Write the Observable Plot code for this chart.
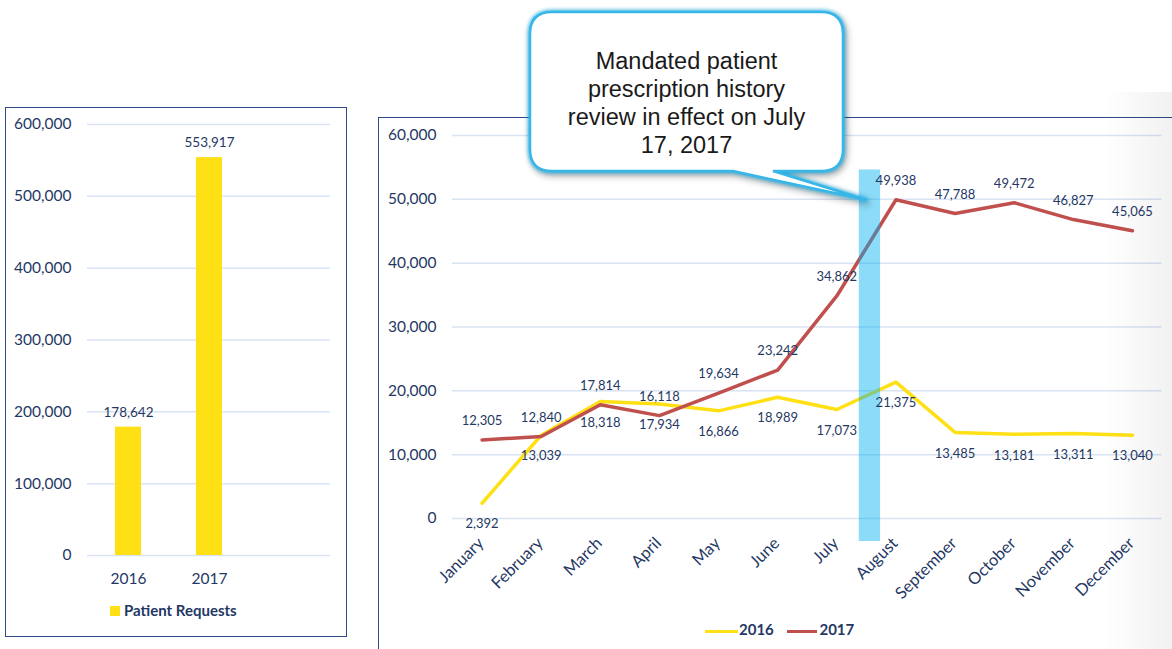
<!DOCTYPE html>
<html><head><meta charset="utf-8">
<script src="https://cdn.jsdelivr.net/npm/d3@7"></script>
<script src="https://cdn.jsdelivr.net/npm/@observablehq/plot@0.6"></script>
<style>
html,body{margin:0;padding:0;background:#fff;}
#page{position:relative;width:1172px;height:649px;overflow:hidden;font-family:Lato,sans-serif;color:#1F3864;}
.abs{position:absolute;}
.leg{font-weight:bold;font-size:15px;color:#1F3864;white-space:nowrap;}
</style></head><body><div id="page">
<div class="abs" style="left:5px;top:107px;width:340px;height:528px;border:1.5px solid #2E4A86;"></div>
<div class="abs" style="left:378px;top:117px;width:840px;height:580px;border:1.5px solid #2E4A86;"></div>
<div id="left" class="abs" style="left:0;top:100px"></div>
<div id="right" class="abs" style="left:380px;top:118px"></div>
<div class="abs leg" style="left:110px;top:601px;">
  <span style="display:inline-block;width:10px;height:10px;background:#FFE015;margin-right:4px;"></span><span id="legLeft"></span>
</div>
<div class="abs leg" style="left:705px;top:619px;line-height:20px;">
  <span style="display:inline-block;width:33px;height:3px;background:#FFE015;vertical-align:middle;"></span><span id="leg16" style="margin-left:1px;"></span>
  <span style="display:inline-block;width:30px;height:3px;background:#C0504D;vertical-align:middle;margin-left:10px;"></span><span id="leg17" style="margin-left:2px;"></span>
</div>
<svg class="abs" style="left:0;top:0;overflow:visible;filter:drop-shadow(0 0 2px #00B0F0) drop-shadow(2px 3px 3px rgba(0,0,0,0.35));" width="1172" height="649">
  <path d="M552,12 H821 Q843,12 843,34 V149 Q843,171 821,171 H773 L867,200 L733,171 H552 Q530,171 530,149 V34 Q530,12 552,12 Z" fill="#fff" stroke="#39B6E8" stroke-width="2.5"/>
</svg>
<div class="abs" id="callout" style="left:528px;top:47px;width:317px;text-align:center;font-family:'Liberation Sans',Arial,sans-serif;font-size:23.5px;line-height:28px;color:#1a1a1a;"></div>
<div class="abs" style="left:1105px;top:92px;width:67px;height:557px;background:linear-gradient(to right,rgba(0,0,0,0),rgba(0,0,0,0.055));pointer-events:none;"></div>
</div>
<script>
const years = ["2016", "2017"];
const totals = [178642, 553917];
const leftSeriesName = "Patient Requests";
const leftTicks = [0, 100000, 200000, 300000, 400000, 500000, 600000];

const months = ["January","February","March","April","May","June","July","August","September","October","November","December"];
const requests2016 = [2392, 13039, 18318, 17934, 16866, 18989, 17073, 21375, 13485, 13181, 13311, 13040];
const requests2017 = [12305, 12840, 17814, 16118, 19634, 23242, 34862, 49938, 47788, 49472, 46827, 45065];
const rightTicks = [0, 10000, 20000, 30000, 40000, 50000, 60000];
const seriesNames = ["2016", "2017"];

const calloutLines = ["Mandated patient", "prescription history", "review in effect on July", "17, 2017"];
// highlight band: month-index span around July 17, and value span
const bandX = [6.38, 6.74];
const bandY = [-3600, 54600];

const fmt = d3.format(",");
const navy = "#1F3864";
const yellow = "#FFE015";
const red = "#C0504D";
const gridColor = "#DAE3F3";

document.getElementById("legLeft").textContent = leftSeriesName;
document.getElementById("leg16").textContent = seriesNames[0];
document.getElementById("leg17").textContent = seriesNames[1];
document.getElementById("callout").innerHTML = calloutLines.join("<br>");

const barData = years.map((y, i) => ({year: y, total: totals[i]}));

const left = Plot.plot({
  width: 360, height: 500,
  marginLeft: 87, marginRight: 30, marginTop: 24, marginBottom: 45,
  style: {fontFamily: "Lato, sans-serif", fontSize: "15.5px", color: navy, background: "transparent"},
  x: {domain: [...years, ""], paddingInner: 0.68, paddingOuter: 0.34, label: null},
  y: {domain: [0, 600000], label: null},
  marks: [
    Plot.ruleY(leftTicks, {stroke: gridColor, strokeWidth: 1.5}),
    Plot.barY(barData, {x: "year", y: "total", fill: yellow}),
    Plot.text(barData, {x: "year", y: "total", text: d => fmt(d.total), dy: -15, fontSize: 13.5, fill: navy}),
    Plot.axisY(leftTicks, {tickSize: 0, tickPadding: 16, tickFormat: fmt, label: null}),
    Plot.axisX({tickSize: 0, tickPadding: 17, label: null})
  ]
});
document.getElementById("left").appendChild(left);

const rows16 = requests2016.map((v, i) => ({i, v}));
const rows17 = requests2017.map((v, i) => ({i, v}));

const right = Plot.plot({
  width: 792, height: 531,
  marginLeft: 72, marginRight: 10.5, marginTop: 17, marginBottom: 131,
  style: {fontFamily: "Lato, sans-serif", fontSize: "15.5px", color: navy, background: "transparent"},
  x: {type: "linear", domain: [-0.5, 11.5], label: null},
  y: {domain: [0, 60000], label: null},
  marks: [
    Plot.ruleY(rightTicks, {stroke: gridColor, strokeWidth: 1.5}),
    Plot.line(rows16, {x: "i", y: "v", stroke: yellow, strokeWidth: 3.5}),
    Plot.line(rows17, {x: "i", y: "v", stroke: red, strokeWidth: 3.5}),
    Plot.rect([{x1: bandX[0], x2: bandX[1], y1: bandY[0], y2: bandY[1]}], {x1: "x1", x2: "x2", y1: "y1", y2: "y2", fill: "#00B0F0", fillOpacity: 0.45}),
    Plot.text(rows17, {x: "i", y: "v", text: d => fmt(d.v), dy: -19, fontSize: 13, fill: navy}),
    Plot.text(rows16, {x: "i", y: "v", text: d => fmt(d.v), dy: 21, fontSize: 13, fill: navy}),
    Plot.axisY(rightTicks, {tickSize: 0, tickPadding: 16, tickFormat: fmt, label: null}),
    Plot.axisX(d3.range(months.length), {tickFormat: i => months[i], tickRotate: -45, tickSize: 0, tickPadding: 22, fontSize: 16.5, dx: -1, label: null})
  ]
});
document.getElementById("right").appendChild(right);
</script>
</body></html>
